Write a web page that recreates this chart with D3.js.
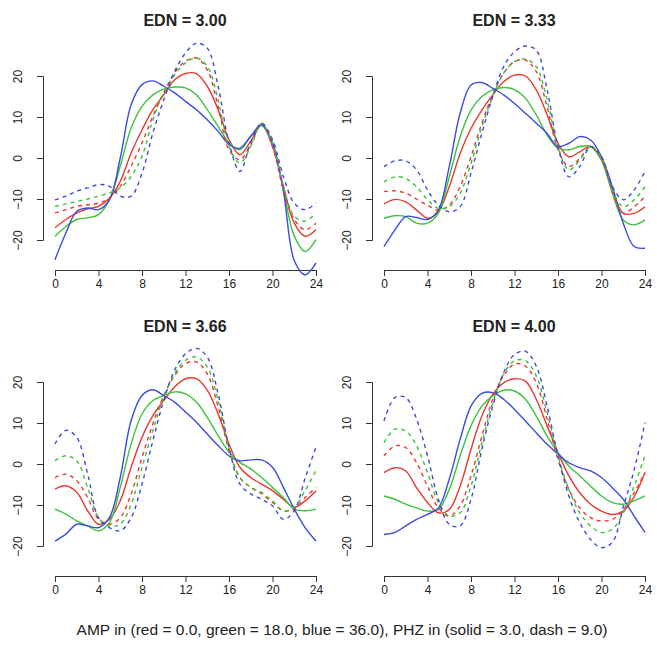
<!DOCTYPE html>
<html>
<head>
<meta charset="utf-8">
<script src="https://cdn.jsdelivr.net/npm/d3@7"></script>
<style>
  body { margin: 0; background: #fff; }
  svg text { font-family: "Liberation Sans", Arial, sans-serif; fill: #222; }
</style>
</head>
<body>
<div id="chart"></div>
<script>
// hours of the day
const hours = d3.range(0, 25);
const xTicks = [0, 4, 8, 12, 16, 20, 24];
const yTicks = [-20, -10, 0, 10, 20];
const panelTitles = ["EDN = 3.00", "EDN = 3.33", "EDN = 3.66", "EDN = 4.00"];
const caption = "AMP in (red = 0.0, green = 18.0, blue = 36.0), PHZ in (solid = 3.0, dash = 9.0)";

// EDN = 3.00
const e300RedSolid   = [-17,-15,-13.4,-12.4,-11.8,-9.8,-5.7,1.2,6.9,11.8,15.4,19.1,20.6,20.6,17.5,11.8,4.5,0.8,4.1,8.1,2.8,-6.9,-15.9,-19.1,-17.5];
const e300GreenSolid = [-19.1,-16.7,-15,-14.6,-13.8,-10.2,-2,7.3,12.6,15.4,16.8,17.3,17.1,15.4,11.8,7.7,3.7,2,5.3,7.9,3.3,-7.7,-19,-22.8,-19.9];
const e300BlueSolid  = [-24.8,-18.3,-13,-12.2,-12.6,-10.2,0,13,17.9,18.8,17.5,15.9,13.8,11.8,9.3,6.5,3.3,2.4,5.3,8.1,3.7,-8,-25,-28.5,-25.6];
const e300RedDash    = [-13.4,-12.6,-11.8,-11.4,-11,-9.8,-6.9,-2,3.7,10.2,15.9,20.8,23.6,24.4,21.5,12.6,2,-0.4,3.3,8.4,2.8,-7.7,-15,-17.5,-15.9];
const e300GreenDash  = [-11.8,-11.2,-10.6,-10,-9.3,-8.5,-7.3,-4.5,0.4,9.3,15.9,20.3,23.2,24.4,22.4,14.2,2.8,-1.2,2.8,8.4,3.7,-6.9,-14.2,-15.4,-13.4];
const e300BlueDash   = [-10.2,-9.3,-8.1,-7.3,-6.5,-6.9,-9.3,-9.3,-3.7,6.1,14.2,21.1,25.6,28,26.8,17.5,3.7,-3.3,3.7,8.5,4.5,-4.5,-11,-12.6,-11];

// EDN = 3.33
const e333RedSolid   = [-11.2,-10.1,-10.7,-12.7,-14.7,-13.1,-7,1.1,7.2,11.7,15.4,18.6,20.2,20,16.6,10.5,3.6,0.3,1.5,2.8,-0.5,-7.8,-13.5,-13.5,-11.9];
const e333GreenSolid = [-14.7,-14.1,-14.3,-15.9,-15.9,-13.5,-4.6,5.2,11.7,15,16.6,17.2,16.7,14.6,10.5,5.6,2.4,2,2.8,2.8,-0.5,-8.6,-15.1,-16.3,-15.1];
const e333BlueSolid  = [-21.6,-17.6,-14.3,-14.5,-15,-12.7,-2.1,10.9,17.8,18.4,17,15.4,13.3,10.9,8.5,6,2.8,3.6,5.2,4.4,0.3,-7,-15.9,-21.6,-22];
const e333RedDash    = [-8.2,-8,-8.6,-10,-11.5,-12.7,-11.5,-7,0.3,8.5,15.4,20.7,23.5,23.9,21.1,12.5,2,-2.1,-0.1,2.8,-0.1,-8.2,-13.5,-11.9,-9.4];
const e333GreenDash  = [-5.8,-4.6,-5,-7,-10.2,-12.3,-11.9,-8.6,-1.3,7.6,15,20.7,23.5,24.1,22.3,14.1,2.8,-2.9,-0.5,2.8,0.3,-7.8,-11.9,-10.2,-7];
const e333BlueDash   = [-2.1,-0.7,-0.7,-2.9,-7.8,-11.5,-13.1,-11.9,-3.7,6,15,22.3,25.9,27.3,26.3,16.6,2.8,-4.6,-2.1,2.8,0.3,-7,-10.2,-7.8,-3.3];

// EDN = 3.66
const e366RedSolid   = [-6.1,-5.3,-6.9,-11.4,-14.7,-13.5,-9,-0.8,6.5,11.8,15.5,18.8,20.8,20.8,18,12.2,4.9,-0.8,-3.3,-4.9,-6.5,-8.6,-10.6,-9,-6.5];
const e366GreenSolid = [-11,-12.2,-13.9,-15.1,-16.3,-14.3,-5.7,4.9,12.2,15.5,16.7,17.6,17.1,15.1,11.4,6.9,2.9,0.4,-1.2,-3.3,-5.7,-8.2,-11,-11.4,-11];
const e366BlueSolid  = [-18.8,-17.1,-14.7,-15.1,-15.5,-13.1,-3.3,10.6,16.7,18.1,16.7,15.1,12.7,10.2,7.3,4.5,2,0.8,1,1,-0.8,-5.7,-11,-15.5,-18.8];
const e366RedDash    = [-3.3,-2.5,-4.1,-8.2,-13.5,-14.7,-13.1,-7.3,1.6,9.8,16.7,21.6,24.5,24.9,22,13.9,3.3,-3.3,-5.7,-7.3,-9.4,-11.4,-11,-8.2,-5.7];
const e366GreenDash  = [0.8,2,0.8,-5.7,-13.1,-15.1,-14.7,-9.8,-0.8,8.2,16.3,22,25.3,26.1,23.7,15.5,4.1,-3.3,-5.7,-6.9,-9,-11.4,-10.6,-6.5,-1.6];
const e366BlueDash   = [4.9,8.2,6.5,-2.4,-13.1,-15.5,-16.3,-13.1,-4.9,5.7,15.5,22.9,26.9,28.2,26.1,17.1,4.1,-4.9,-7.3,-8.6,-10.2,-13.5,-11.4,-3.5,4.1];

// EDN = 4.00
const e400RedSolid   = [-2.1,-0.9,-1.7,-5.8,-9.4,-11.9,-11.1,-5.4,3.6,11.7,17,19.8,20.8,20.2,15.8,9.3,2.8,-2.9,-7,-9.8,-11.5,-12.3,-11.5,-8,-2.1];
const e400GreenSolid = [-7.8,-8.6,-9.8,-10.7,-11.5,-11.1,-6.2,2,9.3,14.1,16.6,18,17.8,15.8,11.7,6.8,2.8,-0.5,-2.9,-5.4,-7.8,-9.4,-9.8,-9,-7.8];
const e400BlueSolid  = [-17.2,-16.7,-15.1,-13.5,-12.3,-10.7,-3.7,6,14.1,17.2,17.4,15.8,13.3,10.5,7.6,4.8,2.4,0.3,-0.9,-1.7,-3.3,-5.8,-8.6,-12.7,-16.7];
const e400RedDash    = [2,4.4,4,0.3,-5.4,-10.7,-12.7,-10.2,-2.9,6.8,15.8,21.5,24.4,23.9,19.8,10.9,1.1,-6.2,-10.7,-13.1,-13.9,-13.5,-11.1,-7,-2.1];
const e400GreenDash  = [5.2,8.5,8,4.4,-2.1,-9.4,-12.7,-11.9,-5.4,5.2,14.9,21.9,25.2,25.2,21.5,12.5,2,-6.2,-11.9,-15.1,-16.7,-15.9,-11.9,-5.4,2];
const e400BlueDash   = [10.5,16.2,16.2,10.9,2,-8.6,-14.7,-15.1,-8.6,3.6,14.1,22.3,26.7,27.5,23.9,14.1,2,-7.8,-14.3,-18.4,-20.4,-19.1,-10.5,-1.5,10.1];

const panelSeries = [
  [e300RedSolid, e300GreenSolid, e300BlueSolid, e300RedDash, e300GreenDash, e300BlueDash],
  [e333RedSolid, e333GreenSolid, e333BlueSolid, e333RedDash, e333GreenDash, e333BlueDash],
  [e366RedSolid, e366GreenSolid, e366BlueSolid, e366RedDash, e366GreenDash, e366BlueDash],
  [e400RedSolid, e400GreenSolid, e400BlueSolid, e400RedDash, e400GreenDash, e400BlueDash]
];

const colors = ["#e8392f", "#3cc23c", "#3a4cdc"];

const width = 657, height = 648;
const svg = d3.select("#chart").append("svg")
  .attr("width", width).attr("height", height);

const dx = 329, dy = 306;

panelSeries.forEach((series, p) => {
  const ox = (p % 2) * dx, oy = Math.floor(p / 2) * dy;
  const g = svg.append("g").attr("transform", `translate(${ox},${oy})`);

  const x = d3.scaleLinear().domain([0, 24]).range([55, 316]);
  const y = d3.scaleLinear().domain([-20, 20]).range([240, 76]);

  g.append("text")
    .attr("x", 185).attr("y", 26)
    .attr("text-anchor", "middle")
    .attr("font-size", "16px").attr("font-weight", "bold")
    .text(panelTitles[p]);

  // y axis
  const ya = g.append("g").attr("transform", "translate(43,0)")
    .call(d3.axisLeft(y).tickValues(yTicks).tickSizeOuter(0).tickSize(6));
  ya.selectAll("text")
    .attr("x", null).attr("dy", null)
    .attr("text-anchor", "middle")
    .attr("transform", "translate(-21,0) rotate(-90)");

  // x axis
  g.append("g").attr("transform", "translate(0,270)")
    .call(d3.axisBottom(x).tickValues(xTicks).tickSizeOuter(0).tickSize(6).tickPadding(3));

  g.selectAll(".tick text").attr("font-size", "12px").attr("font-family", "Liberation Sans, Arial, sans-serif").style("fill", "#222");
  g.selectAll(".domain, .tick line").attr("stroke", "#333");

  const line = d3.line()
    .x((d, i) => x(hours[i]))
    .y(d => y(d))
    .curve(d3.curveCatmullRom.alpha(0.5));

  series.forEach((vals, k) => {
    g.append("path")
      .datum(vals)
      .attr("d", line)
      .attr("fill", "none")
      .attr("stroke", colors[k % 3])
      .attr("stroke-width", 1.4)
      .attr("stroke-dasharray", k >= 3 ? "4,4" : null);
  });
});

svg.append("text")
  .attr("x", 342).attr("y", 635)
  .attr("text-anchor", "middle")
  .attr("font-size", "15.5px")
  .text(caption);
</script>
</body>
</html>
